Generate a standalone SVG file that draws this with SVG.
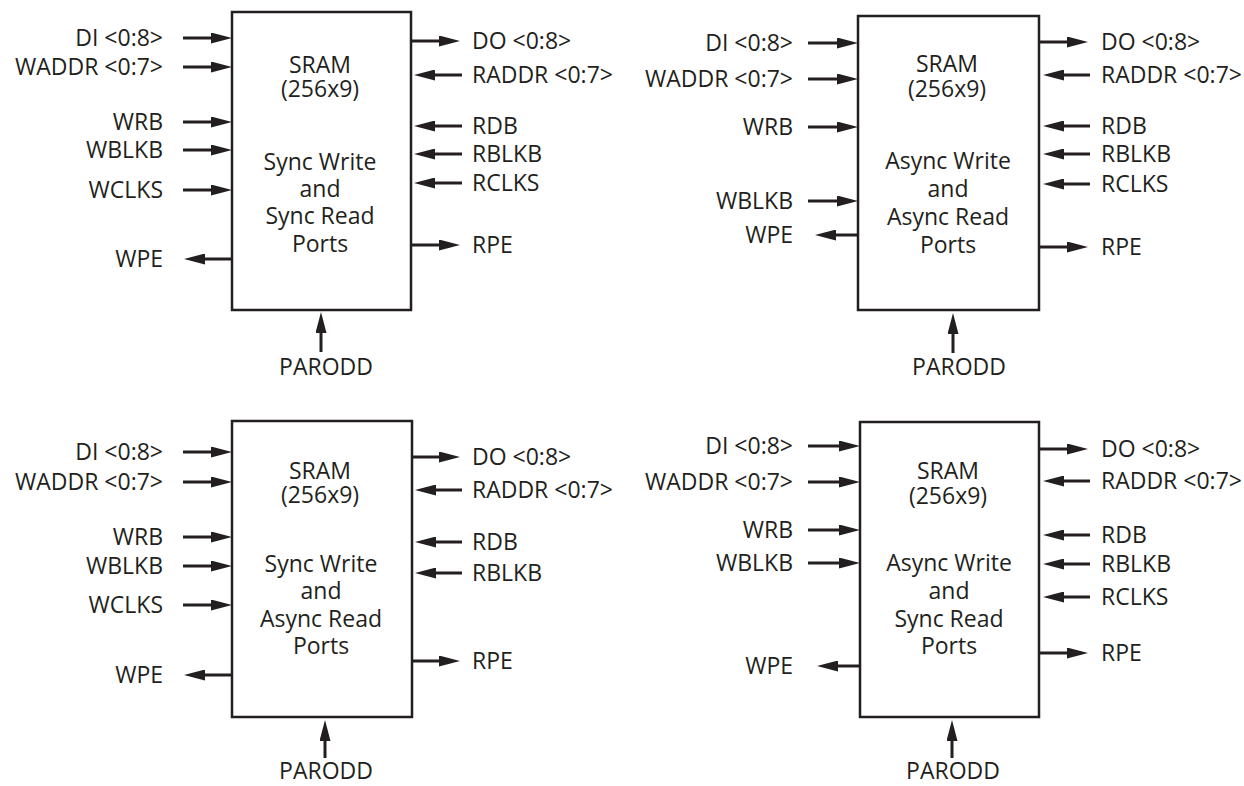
<svg xmlns="http://www.w3.org/2000/svg" width="1244" height="786" viewBox="0 0 1244 786">
<style>
  text { font-family: "Open Sans", "Liberation Sans", sans-serif; font-size: 23px; fill: #231f20; }
  .l { text-anchor: end; }
  .r { text-anchor: start; }
  .c { text-anchor: middle; }
  .box { fill: #ffffff; stroke: #231f20; stroke-width: 2.5; }
  .w { fill: none; stroke: #231f20; stroke-width: 3; marker-end: url(#arr); }
</style>
<defs>
  <marker id="arr" viewBox="0 0 21 11" markerWidth="21" markerHeight="11" markerUnits="userSpaceOnUse" refX="10" refY="5.5" orient="auto">
    <path d="M0,0 L21,5.5 L0,11 z" fill="#231f20"/>
  </marker>
</defs>
<rect width="1244" height="786" fill="#ffffff"/>

<g id="block1">
  <rect class="box" x="232" y="12" width="179" height="298"/>
  <text class="c" x="320" y="72.5">SRAM</text>
  <text class="c" x="320" y="96.5">(256x9)</text>
  <text class="c" x="320" y="169.5">Sync Write</text>
  <text class="c" x="320" y="197">and</text>
  <text class="c" x="320" y="224">Sync Read</text>
  <text class="c" x="320" y="251.5">Ports</text>
  <text class="l" x="163" y="46">DI &lt;0:8&gt;</text>
  <text class="l" x="163" y="75">WADDR &lt;0:7&gt;</text>
  <text class="l" x="163" y="130">WRB</text>
  <text class="l" x="163" y="158">WBLKB</text>
  <text class="l" x="163" y="198">WCLKS</text>
  <text class="l" x="163" y="267">WPE</text>
  <text class="r" x="472" y="49">DO &lt;0:8&gt;</text>
  <text class="r" x="472" y="83">RADDR &lt;0:7&gt;</text>
  <text class="r" x="472" y="134">RDB</text>
  <text class="r" x="472" y="162">RBLKB</text>
  <text class="r" x="472" y="191">RCLKS</text>
  <text class="r" x="472" y="253">RPE</text>
  <text class="c" x="326" y="375">PARODD</text>
</g>

<g id="block2">
  <rect class="box" x="858" y="16" width="181" height="294"/>
  <text class="c" x="947" y="72">SRAM</text>
  <text class="c" x="947" y="96.5">(256x9)</text>
  <text class="c" x="948" y="168.5">Async Write</text>
  <text class="c" x="948" y="196.5">and</text>
  <text class="c" x="948" y="224.5">Async Read</text>
  <text class="c" x="948" y="252.5">Ports</text>
  <text class="l" x="793" y="51">DI &lt;0:8&gt;</text>
  <text class="l" x="793" y="87">WADDR &lt;0:7&gt;</text>
  <text class="l" x="793" y="135">WRB</text>
  <text class="l" x="793" y="209">WBLKB</text>
  <text class="l" x="793" y="243">WPE</text>
  <text class="r" x="1101" y="50">DO &lt;0:8&gt;</text>
  <text class="r" x="1101" y="83">RADDR &lt;0:7&gt;</text>
  <text class="r" x="1101" y="134">RDB</text>
  <text class="r" x="1101" y="162">RBLKB</text>
  <text class="r" x="1101" y="192">RCLKS</text>
  <text class="r" x="1101" y="255">RPE</text>
  <text class="c" x="959" y="375">PARODD</text>
</g>

<g id="block3">
  <rect class="box" x="232" y="421" width="180" height="296"/>
  <text class="c" x="320" y="479">SRAM</text>
  <text class="c" x="320" y="503">(256x9)</text>
  <text class="c" x="321" y="572">Sync Write</text>
  <text class="c" x="321" y="599">and</text>
  <text class="c" x="321" y="627">Async Read</text>
  <text class="c" x="321" y="653.5">Ports</text>
  <text class="l" x="163" y="460">DI &lt;0:8&gt;</text>
  <text class="l" x="163" y="490">WADDR &lt;0:7&gt;</text>
  <text class="l" x="163" y="545">WRB</text>
  <text class="l" x="163" y="574">WBLKB</text>
  <text class="l" x="163" y="613">WCLKS</text>
  <text class="l" x="163" y="683">WPE</text>
  <text class="r" x="472" y="465">DO &lt;0:8&gt;</text>
  <text class="r" x="472" y="498">RADDR &lt;0:7&gt;</text>
  <text class="r" x="472" y="550">RDB</text>
  <text class="r" x="472" y="581">RBLKB</text>
  <text class="r" x="472" y="669">RPE</text>
  <text class="c" x="326" y="779">PARODD</text>
</g>

<g id="block4">
  <rect class="box" x="860" y="422" width="179" height="295"/>
  <text class="c" x="948" y="479">SRAM</text>
  <text class="c" x="948" y="503.5">(256x9)</text>
  <text class="c" x="949" y="571">Async Write</text>
  <text class="c" x="949" y="598.5">and</text>
  <text class="c" x="949" y="627">Sync Read</text>
  <text class="c" x="949" y="653.5">Ports</text>
  <text class="l" x="793" y="454">DI &lt;0:8&gt;</text>
  <text class="l" x="793" y="490">WADDR &lt;0:7&gt;</text>
  <text class="l" x="793" y="538">WRB</text>
  <text class="l" x="793" y="571">WBLKB</text>
  <text class="l" x="793" y="674">WPE</text>
  <text class="r" x="1101" y="457">DO &lt;0:8&gt;</text>
  <text class="r" x="1101" y="489">RADDR &lt;0:7&gt;</text>
  <text class="r" x="1101" y="543">RDB</text>
  <text class="r" x="1101" y="572">RBLKB</text>
  <text class="r" x="1101" y="605">RCLKS</text>
  <text class="r" x="1101" y="661">RPE</text>
  <text class="c" x="953" y="779">PARODD</text>
</g>

<g id="connectors">
  <!-- block 1 -->
  <line class="w" x1="183" y1="38" x2="221" y2="38"/>
  <line class="w" x1="183" y1="67" x2="221" y2="67"/>
  <line class="w" x1="183" y1="122" x2="221" y2="122"/>
  <line class="w" x1="183" y1="150" x2="221" y2="150"/>
  <line class="w" x1="183" y1="190" x2="221" y2="190"/>
  <line class="w" x1="232" y1="259" x2="195" y2="259"/>
  <line class="w" x1="411" y1="41" x2="449" y2="41"/>
  <line class="w" x1="462" y1="75" x2="425" y2="75"/>
  <line class="w" x1="462" y1="126" x2="425" y2="126"/>
  <line class="w" x1="462" y1="154" x2="425" y2="154"/>
  <line class="w" x1="462" y1="183" x2="425" y2="183"/>
  <line class="w" x1="411" y1="245" x2="449" y2="245"/>
  <line class="w" x1="321" y1="352" x2="321" y2="323"/>
  <!-- block 2 -->
  <line class="w" x1="808" y1="43" x2="847" y2="43"/>
  <line class="w" x1="808" y1="79" x2="847" y2="79"/>
  <line class="w" x1="808" y1="127" x2="847" y2="127"/>
  <line class="w" x1="808" y1="201" x2="847" y2="201"/>
  <line class="w" x1="858" y1="235" x2="826" y2="235"/>
  <line class="w" x1="1039" y1="42" x2="1077" y2="42"/>
  <line class="w" x1="1090" y1="75" x2="1054" y2="75"/>
  <line class="w" x1="1090" y1="126" x2="1054" y2="126"/>
  <line class="w" x1="1090" y1="154" x2="1054" y2="154"/>
  <line class="w" x1="1090" y1="184" x2="1054" y2="184"/>
  <line class="w" x1="1039" y1="247" x2="1077" y2="247"/>
  <line class="w" x1="953" y1="353" x2="953" y2="324"/>
  <!-- block 3 -->
  <line class="w" x1="183" y1="452" x2="221" y2="452"/>
  <line class="w" x1="183" y1="482" x2="221" y2="482"/>
  <line class="w" x1="183" y1="537" x2="221" y2="537"/>
  <line class="w" x1="183" y1="566" x2="221" y2="566"/>
  <line class="w" x1="183" y1="605" x2="221" y2="605"/>
  <line class="w" x1="232" y1="675" x2="195" y2="675"/>
  <line class="w" x1="412" y1="457" x2="449" y2="457"/>
  <line class="w" x1="462" y1="490" x2="426" y2="490"/>
  <line class="w" x1="462" y1="542" x2="426" y2="542"/>
  <line class="w" x1="462" y1="573" x2="426" y2="573"/>
  <line class="w" x1="412" y1="661" x2="449" y2="661"/>
  <line class="w" x1="325" y1="758" x2="325" y2="731"/>
  <!-- block 4 -->
  <line class="w" x1="808" y1="446" x2="849" y2="446"/>
  <line class="w" x1="808" y1="482" x2="849" y2="482"/>
  <line class="w" x1="808" y1="530" x2="849" y2="530"/>
  <line class="w" x1="808" y1="563" x2="849" y2="563"/>
  <line class="w" x1="860" y1="666" x2="828" y2="666"/>
  <line class="w" x1="1039" y1="449" x2="1077" y2="449"/>
  <line class="w" x1="1090" y1="481" x2="1054" y2="481"/>
  <line class="w" x1="1090" y1="535" x2="1054" y2="535"/>
  <line class="w" x1="1090" y1="564" x2="1054" y2="564"/>
  <line class="w" x1="1090" y1="597" x2="1054" y2="597"/>
  <line class="w" x1="1039" y1="653" x2="1077" y2="653"/>
  <line class="w" x1="952" y1="758" x2="952" y2="731"/>
</g>
</svg>
